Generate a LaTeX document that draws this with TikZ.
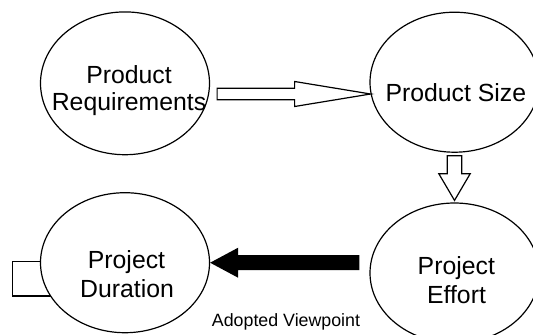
\documentclass[tikz,border=0pt]{standalone}
\usepackage{fontspec}
\setmainfont{Liberation Sans}
\usetikzlibrary{calc,shapes.geometric}

\begin{document}
\begin{tikzpicture}[x=0.5pt,y=-0.5pt,
  bubble/.style={ellipse,draw,line width=0.6pt,fill=white,inner sep=0pt,
    minimum width=84.5pt,minimum height=70pt},
  lbl/.style={inner sep=0pt,anchor=base,font=\fontsize{12.4pt}{14pt}\selectfont},
  note/.style={inner sep=0pt,anchor=base,font=\fontsize{8.9pt}{10pt}\selectfont},
  hollow/.style={draw,line width=0.6pt,fill=white,line join=miter}]
  \useasboundingbox (0,0) rectangle (533,334);
  % small box sitting behind the duration bubble
  \draw[line width=0.6pt] (12.7,261.7) rectangle (80,296);
  \node[bubble,minimum height=71.4pt] (req) at (125,83.3) {};
  \node[bubble] (size) at (454.5,82.2) {};
  \node[bubble] (effort) at (454.5,273) {};
  \node[bubble] (dur) at (125,262.7) {};
  % requirements -> size
  \coordinate (a1) at (size.188);
  \coordinate (a0) at ([xshift=3.5pt]req.east |- a1);
  \draw[hollow] ($(a0)+(0,-5.7)$) -- ($(a1)+(-76,-5.7)$) -- ($(a1)+(-76,-12.5)$)
    -- (a1) -- ($(a1)+(-76,12.5)$) -- ($(a1)+(-76,5.7)$) -- ($(a0)+(0,5.7)$) -- cycle;
  % size -> effort
  \coordinate (b0) at ([yshift=-1.5pt]size.south);
  \coordinate (b1) at ([yshift=1pt]effort.north);
  \draw[hollow] ($(b0)+(-7.3,0)$) -- ($(b1)+(-7.3,-26.7)$) -- ($(b1)+(-15.7,-26.7)$)
    -- (b1) -- ($(b1)+(15.7,-26.7)$) -- ($(b1)+(7.3,-26.7)$) -- ($(b0)+(7.3,0)$) -- cycle;
  % effort -> duration
  \coordinate (c1) at (dur.east);
  \coordinate (c0) at ([xshift=-5pt]effort.west |- c1);
  \fill ($(c0)+(0,-7.5)$) -- ($(c1)+(28,-7.5)$) -- ($(c1)+(28,-15)$)
    -- (c1) -- ($(c1)+(28,15)$) -- ($(c1)+(28,7.5)$) -- ($(c0)+(0,7.5)$) -- cycle;
  % labels
  \node[lbl] (reqa) at (129,83.3) {Product};
  \node[lbl] (reqb) at (129,110.5) {Requirements};
  \node[lbl] (sizea) at (455.8,101) {Product Size};
  \node[lbl] (dura) at (126.5,268.5) {Project};
  \node[lbl] (durb) at (127,297.4) {Duration};
  \node[lbl] (effa) at (456.3,274) {Project};
  \node[lbl] (effb) at (456.5,303.5) {Effort};
  \node[note] (view) at (286,326) {Adopted Viewpoint};
\end{tikzpicture}
\end{document}
